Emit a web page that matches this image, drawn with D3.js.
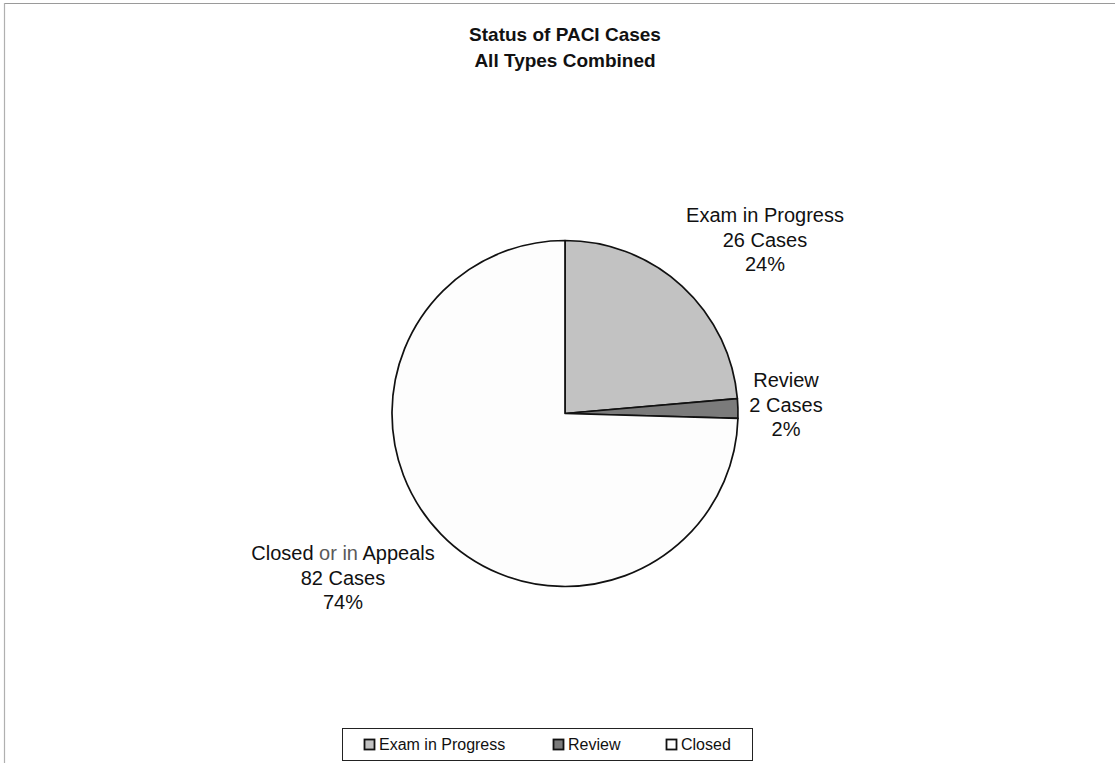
<!DOCTYPE html>
<html>
<head>
<meta charset="utf-8">
<script src="https://cdn.jsdelivr.net/npm/d3@7"></script>
<style>
  html, body { margin: 0; padding: 0; background: #ffffff; }
  svg { display: block; }
</style>
</head>
<body>
<svg id="chart" width="1115" height="763"></svg>
<script>
// Case status breakdown
const categories = ["Exam in Progress", "Review", "Closed"];
const labelNames = ["Exam in Progress", "Review", "Closed or in Appeals"];
const caseCounts = [26, 2, 82];
const percentLabels = ["24%", "2%", "74%"];
const sliceColors = ["#c2c2c2", "#7b7b7b", "#fdfdfd"];

const svg = d3.select("#chart");
const W = 1115, H = 763;
const font = "'Liberation Sans', Arial, sans-serif";

// chart frame (top and left edges)
svg.append("line").attr("x1", 4).attr("x2", W).attr("y1", 3.5).attr("y2", 3.5)
  .attr("stroke", "#9a9a9a").attr("stroke-width", 1.2);
svg.append("line").attr("x1", 4.5).attr("x2", 4.5).attr("y1", 3).attr("y2", H)
  .attr("stroke", "#b0b0b0").attr("stroke-width", 1.2);

// title
const title = svg.append("text").attr("text-anchor", "middle")
  .attr("font-family", font).attr("font-weight", "bold").attr("font-size", 19)
  .attr("fill", "#111");
title.append("tspan").attr("x", 565).attr("y", 41).text("Status of PACI Cases");
title.append("tspan").attr("x", 565).attr("y", 67).text("All Types Combined");

// pie
const cx = 565, cy = 413.5, R = 173;
const data = categories.map((c, i) => ({ name: c, value: caseCounts[i], color: sliceColors[i] }));
const pie = d3.pie().value(d => d.value).sort(null);
const arc = d3.arc().innerRadius(0).outerRadius(R);
const g = svg.append("g").attr("transform", `translate(${cx},${cy})`);
g.selectAll("path").data(pie(data)).join("path")
  .attr("d", arc)
  .attr("fill", d => d.data.color)
  .attr("stroke", "#111")
  .attr("stroke-width", 1.7)
  .attr("stroke-linejoin", "round");

// slice labels
const labelPos = [
  { x: 765, y: 222 },
  { x: 786, y: 387 },
  { x: 343, y: 560 }
];
const lineGap = 24.5;
labelNames.forEach((name, i) => {
  const t = svg.append("text").attr("text-anchor", "middle")
    .attr("font-family", font).attr("font-size", 20).attr("fill", "#111");
  const first = t.append("tspan").attr("x", labelPos[i].x).attr("y", labelPos[i].y);
  if (name === "Closed or in Appeals") {
    first.append("tspan").text("Closed ");
    first.append("tspan").attr("fill", "#5a5a5a").text("or in");
    first.append("tspan").text(" Appeals");
  } else {
    first.text(name);
  }
  t.append("tspan").attr("x", labelPos[i].x).attr("y", labelPos[i].y + lineGap)
    .text(caseCounts[i] + " Cases");
  t.append("tspan").attr("x", labelPos[i].x).attr("y", labelPos[i].y + 2 * lineGap)
    .text(percentLabels[i]);
});

// legend
const legend = svg.append("g");
legend.append("rect").attr("x", 342.5).attr("y", 728.5).attr("width", 410).attr("height", 32)
  .attr("fill", "#fff").attr("stroke", "#222").attr("stroke-width", 1);
const legendX = [364, 553, 666];
categories.forEach((c, i) => {
  legend.append("rect").attr("x", legendX[i] + 0.5).attr("y", 739.5)
    .attr("width", 10).attr("height", 10)
    .attr("fill", sliceColors[i]).attr("stroke", "#111").attr("stroke-width", 1.8);
  legend.append("text").attr("x", legendX[i] + 15).attr("y", 750)
    .attr("font-family", font).attr("font-size", 16).attr("fill", "#111")
    .text(c);
});
</script>
</body>
</html>
